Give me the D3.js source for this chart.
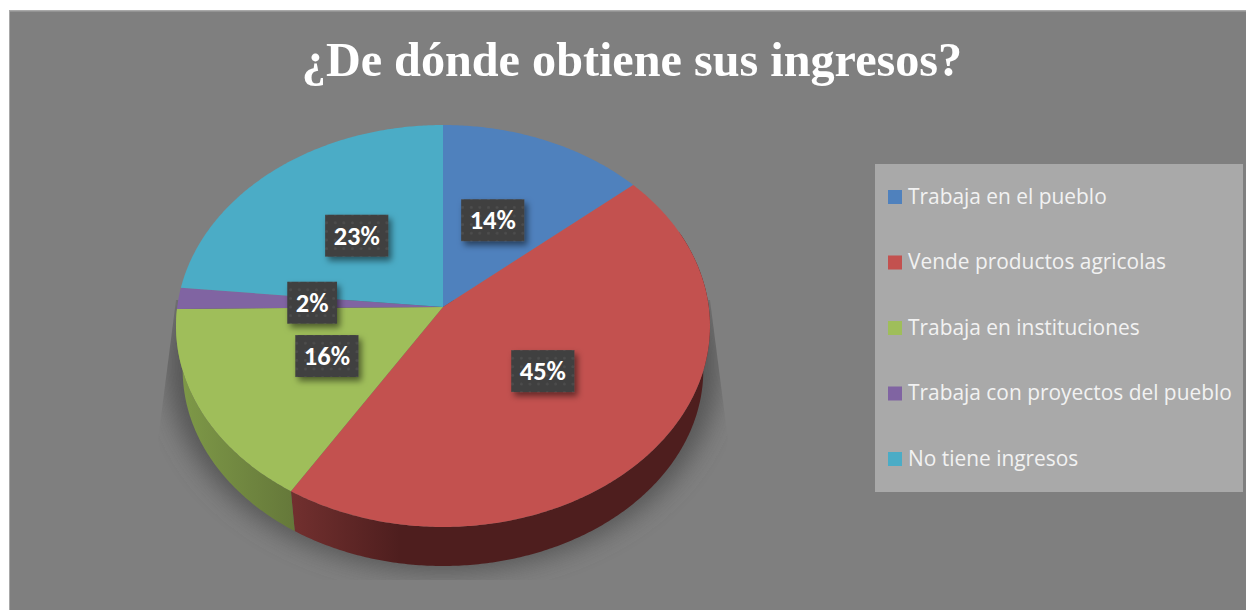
<!DOCTYPE html>
<html><head><meta charset="utf-8">
<script src="https://cdn.jsdelivr.net/npm/d3@7"></script>
<style>html,body{margin:0;padding:0;background:#fff;overflow:hidden}svg{display:block}</style>
</head><body><svg id="c" width="1246" height="610"></svg>
<script>
const titleText = "¿De dónde obtiene sus ingresos?";
const categories = ["Trabaja en el pueblo","Vende productos agricolas","Trabaja en instituciones","Trabaja con proyectos del pueblo","No tiene ingresos"];
const values = [13.7,45.0,16.0,1.7,23.4];
const colors = ["#4f81bd","#c3514f","#9fbe5a","#8064a2","#4bacc6"];
const wallLight = {1:"#72302f",2:"#7f9a48"};
const wallDark  = {1:"#4e1e1e",2:"#65783a"};
const labelRadius = [.5,.48,.49,.49,.5];
const labelNudgeX = [-3.5,0,0,-1,0];

const W=1246,H=610;
const svg=d3.select("#c");
const defs=svg.append("defs");

// perspective model of the tilted disc
const persp=0.0945;
const sx=d3.scaleLinear().domain([-1,1]).range([443-265.8,443+265.8]);
const sy=d3.scaleLinear().domain([-1,1]).range([307-199.2,307+199.2]);
const depthShrink=0.975, depthDrop=44.5;
function proj(a,r=1,shrink=1,drop=0){
  const u=r*Math.sin(a), v=-r*Math.cos(a), d=1-persp*v;
  const x=sx(u/d), y=sy(v/d);
  return [sx(0)+(x-sx(0))*shrink, sy(0)+(y-sy(0))*shrink+drop];
}
const line=d3.line().curve(d3.curveLinear);
const samples=(a0,a1)=>{const n=Math.max(2,Math.ceil((a1-a0)/0.01));return d3.range(n+1).map(i=>a0+(a1-a0)*i/n);};

const pie=d3.pie().sort(null).value(d=>d);
const arcs=pie(values);

// chart area
svg.append("rect").attr("x",9).attr("y",10).attr("width",W-9).attr("height",H-10).attr("fill","#a8a8a8");
svg.append("rect").attr("x",10).attr("y",11.5).attr("width",W-10).attr("height",H-11).attr("fill","#7f7f7f");

// cast shadow
const blur=defs.append("filter").attr("id","blur").attr("x","-20%").attr("y","-20%").attr("width","140%").attr("height","140%");
blur.append("feGaussianBlur").attr("stdDeviation",12);
const shClip=[[176,300],[158,440],[170,500],[300,580],[590,580],[716,500],[728,440],[710,300]];
defs.append("clipPath").attr("id","shClip").append("path").attr("d",line(shClip)+"Z");
const full=samples(0,2*Math.PI);
svg.append("g").attr("clip-path","url(#shClip)")
  .append("path").attr("d",line(full.map(a=>proj(a,1.035,1,36)))+"Z")
  .attr("fill","#575757").attr("filter","url(#blur)");

// side walls
[1,2].forEach(i=>{
  const g=defs.append("linearGradient").attr("id","w"+i).attr("gradientUnits","userSpaceOnUse")
    .attr("x1",i==1?291:176).attr("x2",i==1?400:295).attr("y1",0).attr("y2",0);
  g.append("stop").attr("offset",0).attr("stop-color",i==1?wallLight[1]:wallLight[2]);
  g.append("stop").attr("offset",1).attr("stop-color",i==1?wallDark[1]:wallDark[2]);
  const as=samples(i==1?Math.PI/2-0.4:arcs[i].startAngle, i==1?arcs[1].endAngle:arcs[2].endAngle);
  const top=as.map(a=>proj(a));
  const bot=as.map(a=>proj(a,1,depthShrink,depthDrop)).reverse();
  svg.append("path").attr("d",line(top.concat(bot))+"Z").attr("fill",`url(#w${i})`);
});

// top face
svg.append("g").selectAll("path").data(arcs).join("path")
  .attr("d",d=>line([proj(0,0)].concat(samples(d.startAngle,d.endAngle).map(a=>proj(a))))+"Z")
  .attr("fill",(d,i)=>colors[i]);

// data labels
const pat=defs.append("pattern").attr("id","dots").attr("patternUnits","userSpaceOnUse").attr("width",8.6).attr("height",8.6);
pat.append("rect").attr("width",8.6).attr("height",8.6).attr("fill","#3f3f3f");
pat.append("circle").attr("cx",4.3).attr("cy",4.3).attr("r",1.5).attr("fill","#4d4d4d");
const ds=defs.append("filter").attr("id","ds").attr("x","-30%").attr("y","-30%").attr("width","170%").attr("height","170%");
ds.append("feDropShadow").attr("dx",3).attr("dy",4).attr("stdDeviation",3).attr("flood-color","#000").attr("flood-opacity",.5);
const fmt=d3.format(".0%");
const lab=svg.append("g").selectAll("g").data(arcs).join("g")
  .attr("transform",(d,i)=>{const p=proj((d.startAngle+d.endAngle)/2,labelRadius[i]);return `translate(${p[0]+labelNudgeX[i]},${p[1]})`;});
lab.append("rect").attr("y",-21).attr("height",42).attr("fill","url(#dots)").attr("filter","url(#ds)");
lab.append("text").attr("text-anchor","middle").attr("y",9)
  .attr("font-family","Carlito, Lato, sans-serif").attr("font-weight",700).attr("font-size",26.5).attr("fill","#fff")
  .text(d=>fmt(d.value/100));
lab.each(function(){const g=d3.select(this);const w=g.select("text").node().getComputedTextLength()+17;g.select("rect").attr("x",-w/2).attr("width",w);});

// legend
svg.append("rect").attr("x",875).attr("y",164).attr("width",368).attr("height",328).attr("fill","#a9a9a9");
const ly=d3.scalePoint().domain(categories).range([196,458]);
const lg=svg.append("g").selectAll("g").data(categories).join("g").attr("transform",d=>`translate(888,${ly(d)})`);
lg.append("rect").attr("y",-6).attr("width",14).attr("height",14).attr("fill",(d,i)=>colors[i]);
lg.append("text").attr("x",20).attr("y",7.5).attr("font-family","'Open Sans',sans-serif").attr("font-size",20.9).attr("fill","#f2f2f2").text(d=>d);

// title
svg.append("text").attr("x",632).attr("y",76).attr("text-anchor","middle")
  .attr("font-family","'Liberation Serif',serif").attr("font-weight",700).attr("font-size",48.2).attr("fill","#fff").text(titleText);
</script></body></html>
